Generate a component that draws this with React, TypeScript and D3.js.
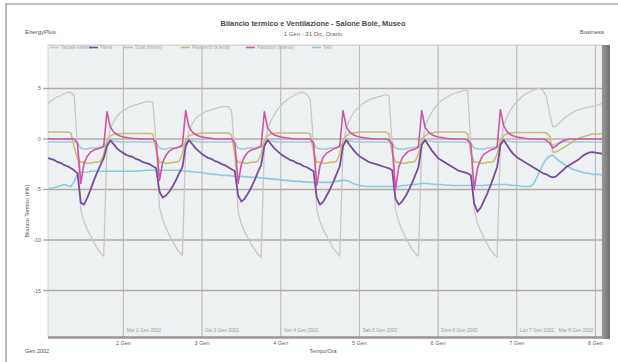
import * as d3 from "d3";

// hourly data, Jan 1 2002 01:00 -> Jan 8 2002 02:00 (kW)
const START = new Date(2002, 0, 1, 1);
const END = new Date(2002, 0, 8, 2);

const dayTicks = ["2 Gen", "3 Gen", "4 Gen", "5 Gen", "6 Gen", "7 Gen", "8 Gen"];
const dayTickDates = [2, 3, 4, 5, 6, 7, 8].map(d => new Date(2002, 0, d));
const dayNames = ["Mer 2 Gen 2002", "Gio 3 Gen 2002", "Ven 4 Gen 2002", "Sab 5 Gen 2002", "Dom 6 Gen 2002", "Lun 7 Gen 2002", "Mar 8 Gen 2002"];
const yTicks = [5, 0, -5, -10, -15];

// Partizioni (magenta)
const partizioni = [
  0.05, 0, 0, 0, 0, 0, 0, 0, 0, -0.4, -4.4, -2.4, -1.7, -1.3, -1.1, -1.0, -0.9, -0.7, 2.7, 1.2, 0.7, 0.45, 0.3,
  0.2, 0.15, 0.1, 0.05, 0.05, 0, 0, 0, 0, 0, -0.3, -4.1, -2.3, -1.6, -1.2, -1.0, -0.9, -0.8, -0.6, 2.8, 1.2, 0.7, 0.45, 0.3,
  0.2, 0.15, 0.1, 0.05, 0, 0, 0, 0, 0, 0, -0.4, -4.4, -2.5, -1.7, -1.3, -1.1, -1.0, -0.9, -0.7, 2.7, 1.1, 0.65, 0.4, 0.3,
  0.2, 0.15, 0.1, 0.05, 0, 0, 0, 0, 0, 0, -0.4, -4.6, -2.6, -1.8, -1.4, -1.2, -1.0, -0.9, -0.7, 2.8, 1.2, 0.7, 0.45, 0.3,
  0.2, 0.15, 0.1, 0.05, 0, 0, 0, 0, 0, -0.1, -0.5, -5.0, -2.8, -1.9, -1.5, -1.2, -1.1, -1.0, -0.8, 2.8, 1.2, 0.7, 0.45, 0.3,
  0.2, 0.15, 0.1, 0.05, 0, 0, 0, 0, 0, -0.1, -0.5, -5.0, -2.9, -2.0, -1.5, -1.3, -1.1, -1.0, -0.8, 2.9, 1.3, 0.75, 0.45, 0.3,
  0.2, 0.15, 0.1, 0.05, 0, 0, 0, 0, 0, -0.1, -0.4, -0.9, -0.7, -0.4, -0.2, -0.1, 0, 0, 0, 0, 0, 0, 0, 0,
  0, 0, 0,
];

// Pareti (purple)
const pareti = [
  -1.9, -2.0, -2.1, -2.3, -2.4, -2.6, -2.7, -2.9, -3.1, -3.4, -6.3, -6.5, -5.8, -5.0, -4.1, -3.3, -2.6, -1.9, -0.7, -0.15, -0.5, -0.9, -1.2,
  -1.4, -1.6, -1.7, -1.8, -2.0, -2.1, -2.3, -2.4, -2.5, -2.7, -2.9, -5.2, -5.8, -5.6, -5.2, -4.7, -4.1, -3.4, -2.8, -0.7, -0.1, -0.5, -0.9, -1.2,
  -1.5, -1.7, -1.9, -2.0, -2.2, -2.3, -2.5, -2.6, -2.8, -3.0, -3.2, -5.6, -6.2, -5.9, -5.4, -4.8, -4.1, -3.3, -2.6, -0.7, -0.1, -0.5, -0.9, -1.2,
  -1.5, -1.7, -1.9, -2.1, -2.2, -2.4, -2.5, -2.7, -2.8, -3.0, -3.2, -5.8, -6.5, -6.2, -5.6, -5.0, -4.3, -3.5, -2.7, -0.7, -0.1, -0.6, -1.0, -1.4,
  -1.7, -1.9, -2.1, -2.3, -2.4, -2.5, -2.6, -2.7, -2.8, -2.9, -3.1, -5.9, -6.5, -6.2, -5.7, -5.1, -4.4, -3.6, -2.8, -0.6, -0.1, -0.6, -1.1, -1.5,
  -1.9, -2.1, -2.3, -2.5, -2.7, -2.9, -3.1, -3.2, -3.3, -3.4, -3.6, -6.4, -7.2, -6.8, -6.1, -5.4, -4.6, -3.7, -2.8, -0.6, -0.1, -0.6, -1.1, -1.5,
  -1.8, -2.0, -2.2, -2.4, -2.6, -2.8, -3.0, -3.2, -3.4, -3.5, -3.7, -3.8, -3.7, -3.4, -3.1, -2.8, -2.6, -2.4, -2.2, -2.0, -1.7, -1.5, -1.35, -1.3,
  -1.35, -1.4, -1.45,
];

// Pavimenti (olive)
const pavimenti = [
  0.7, 0.7, 0.7, 0.7, 0.7, 0.7, 0.7, 0.6, -0.8, -2.0, -2.3, -2.3, -2.4, -2.4, -2.3, -2.3, -2.2, -1.5, -0.1, 0.3, 0.45, 0.5, 0.55,
  0.55, 0.55, 0.55, 0.55, 0.55, 0.55, 0.55, 0.55, 0.55, 0.5, -1.2, -2.3, -2.3, -2.4, -2.4, -2.3, -2.3, -2.2, -1.5, -0.1, 0.3, 0.45, 0.5, 0.55,
  0.6, 0.6, 0.6, 0.6, 0.6, 0.6, 0.6, 0.6, 0.6, 0.4, -1.6, -2.3, -2.3, -2.4, -2.4, -2.3, -2.3, -2.2, -1.5, -0.1, 0.3, 0.5, 0.55, 0.6,
  0.6, 0.6, 0.6, 0.6, 0.6, 0.6, 0.6, 0.6, 0.6, 0.5, -1.3, -2.3, -2.3, -2.4, -2.4, -2.3, -2.3, -2.2, -1.5, -0.1, 0.3, 0.5, 0.6, 0.65,
  0.7, 0.7, 0.7, 0.7, 0.7, 0.7, 0.7, 0.7, 0.7, 0.5, -1.4, -2.3, -2.3, -2.4, -2.4, -2.3, -2.3, -2.2, -1.5, -0.1, 0.3, 0.5, 0.6, 0.65,
  0.7, 0.7, 0.7, 0.7, 0.7, 0.7, 0.7, 0.7, 0.7, 0.5, -1.4, -2.3, -2.3, -2.4, -2.4, -2.3, -2.3, -2.2, -1.5, -0.1, 0.3, 0.5, 0.6, 0.65,
  0.65, 0.65, 0.65, 0.65, 0.65, 0.65, 0.65, 0.65, 0.65, 0.6, 0.3, -1.3, -1.3, -1.1, -0.9, -0.7, -0.5, -0.3, -0.1, 0.1, 0.2, 0.3, 0.4, 0.5,
  0.5, 0.5, 0.55,
];

// Vetrate esterne (light grey)
const vetrate = [
  3.5, 3.8, 4.0, 4.2, 4.3, 4.5, 4.6, 4.6, 4.3, -1.0, -7.0, -8.2, -9.0, -9.6, -10.2, -10.8, -11.3, -11.6, -0.6, 1.0, 1.7, 2.2, 2.6,
  2.8, 3.0, 3.2, 3.3, 3.4, 3.5, 3.6, 3.7, 3.7, 3.6, -0.5, -6.8, -8.0, -8.8, -9.5, -10.1, -10.7, -11.2, -11.5, -0.8, 0.8, 1.5, 2.0, 2.3,
  2.5, 2.7, 2.8, 2.9, 3.0, 3.1, 3.2, 3.2, 3.2, 2.8, -1.5, -7.2, -8.4, -9.2, -9.8, -10.4, -10.9, -11.4, -11.7, -0.8, 1.0, 1.8, 2.4, 2.9,
  3.3, 3.6, 3.9, 4.1, 4.3, 4.5, 4.6, 4.6, 4.4, 3.9, -0.5, -7.0, -8.2, -9.0, -9.6, -10.2, -10.8, -11.2, -11.6, -0.8, 1.1, 1.9, 2.5, 2.9,
  3.2, 3.5, 3.7, 3.9, 4.0, 4.1, 4.2, 4.3, 4.4, 4.3, -0.5, -7.0, -8.2, -9.0, -9.7, -10.3, -10.9, -11.3, -11.6, -0.8, 1.2, 2.0, 2.6, 3.1,
  3.5, 3.8, 4.0, 4.2, 4.4, 4.5, 4.6, 4.7, 4.8, 4.8, -0.5, -7.0, -8.3, -9.1, -9.8, -10.4, -11.0, -11.4, -11.7, -0.8, 1.3, 2.2, 2.8, 3.3,
  3.7, 4.0, 4.3, 4.5, 4.7, 4.8, 4.95, 5.0, 4.8, 4.2, 2.5, 1.2, 1.3, 1.6, 1.9, 2.2, 2.4, 2.6, 2.8, 2.9, 3.0, 3.1, 3.15, 3.2,
  3.3, 3.4, 3.5,
];

// Solai interni (light teal)
const solai = [
  -0.3, -0.3, -0.3, -0.3, -0.3, -0.3, -0.3, -0.3, -0.3, -0.4, -0.9, -1.0, -1.0, -0.9, -0.9, -0.9, -0.8, -0.8, -0.4, -0.2, -0.2, -0.25, -0.3,
  -0.3, -0.3, -0.3, -0.3, -0.3, -0.3, -0.3, -0.3, -0.3, -0.3, -0.4, -0.9, -1.0, -1.0, -0.9, -0.9, -0.9, -0.8, -0.8, -0.4, -0.2, -0.2, -0.25, -0.3,
  -0.3, -0.3, -0.3, -0.3, -0.3, -0.3, -0.3, -0.3, -0.3, -0.3, -0.4, -0.9, -1.0, -1.0, -0.9, -0.9, -0.9, -0.8, -0.8, -0.4, -0.2, -0.2, -0.25, -0.3,
  -0.3, -0.3, -0.3, -0.3, -0.3, -0.3, -0.3, -0.3, -0.3, -0.3, -0.4, -0.9, -1.0, -1.0, -1.0, -0.9, -0.9, -0.8, -0.8, -0.4, -0.2, -0.2, -0.25, -0.3,
  -0.3, -0.3, -0.3, -0.3, -0.3, -0.3, -0.3, -0.3, -0.3, -0.3, -0.4, -0.9, -1.0, -1.0, -1.0, -0.9, -0.9, -0.8, -0.8, -0.4, -0.2, -0.2, -0.25, -0.3,
  -0.3, -0.3, -0.3, -0.3, -0.3, -0.3, -0.3, -0.3, -0.3, -0.3, -0.4, -0.9, -1.0, -1.0, -1.0, -0.9, -0.9, -0.8, -0.8, -0.4, -0.2, -0.2, -0.25, -0.3,
  -0.3, -0.3, -0.3, -0.3, -0.3, -0.3, -0.3, -0.3, -0.3, -0.3, -0.35, -0.6, -0.5, -0.4, -0.3, -0.3, -0.3, -0.3, -0.3, -0.3, -0.3, -0.3, -0.3, -0.3,
  -0.3, -0.3, -0.3,
];

// Tetti (sky blue)
const tetti = [
  -4.9, -4.85, -4.8, -4.7, -4.6, -4.5, -4.6, -4.7, -4.2, -3.4, -3.3, -3.3, -3.3, -3.2, -3.2, -3.2, -3.2, -3.2, -3.2, -3.2, -3.2, -3.2, -3.2,
  -3.2, -3.2, -3.2, -3.2, -3.2, -3.15, -3.15, -3.1, -3.1, -3.1, -3.1, -3.1, -3.1, -3.1, -3.1, -3.1, -3.1, -3.1, -3.15, -3.2, -3.2, -3.25, -3.3, -3.3,
  -3.35, -3.4, -3.45, -3.5, -3.5, -3.55, -3.6, -3.6, -3.6, -3.65, -3.7, -3.7, -3.7, -3.75, -3.75, -3.8, -3.8, -3.8, -3.85, -3.9, -3.9, -3.95, -4.0, -4.0,
  -4.05, -4.1, -4.1, -4.15, -4.2, -4.2, -4.2, -4.25, -4.25, -4.3, -4.3, -4.3, -4.3, -4.3, -4.3, -4.3, -4.25, -4.2, -4.15, -4.1, -4.1, -4.2, -4.4, -4.5,
  -4.6, -4.65, -4.7, -4.7, -4.7, -4.7, -4.7, -4.7, -4.7, -4.7, -4.7, -4.7, -4.7, -4.6, -4.6, -4.55, -4.5, -4.5, -4.45, -4.4, -4.4, -4.4, -4.45, -4.5,
  -4.5, -4.5, -4.55, -4.55, -4.6, -4.6, -4.6, -4.6, -4.6, -4.6, -4.6, -4.6, -4.6, -4.6, -4.6, -4.55, -4.55, -4.5, -4.5, -4.5, -4.5, -4.5, -4.55, -4.6,
  -4.6, -4.65, -4.7, -4.7, -4.7, -4.5, -3.9, -3.2, -2.5, -2.0, -1.7, -1.6, -1.9, -2.2, -2.4, -2.6, -2.8, -3.0, -3.1, -3.2, -3.3, -3.4, -3.4, -3.5,
  -3.5, -3.5, -3.6,
];

const series = [
  {name: "Vetrate esterne", values: vetrate, color: "#cdc6c6", width: 1.3},
  {name: "Tetti", values: tetti, color: "#8ccbe2", width: 1.6},
  {name: "Solai (interni)", values: solai, color: "#a3cbd3", width: 1.5},
  {name: "Pavimenti (a terra)", values: pavimenti, color: "#c6be70", width: 1.5},
  {name: "Pareti", values: pareti, color: "#7a4c9c", width: 1.8},
  {name: "Partizioni (interne)", values: partizioni, color: "#cf55a6", width: 1.6},
];

// legend order as in the header strip
const legendOrder = [0, 4, 2, 3, 5, 1];
const legendX = [50, 89, 124, 181, 246, 312];

const left = 48, right = 602, top = 45, bottom = 337;

export default function App() {
  const x = d3.scaleTime().domain([START, END]).range([left, right]);
  const y = d3.scaleLinear().domain([-19.6, 9.3]).range([bottom, top]);
  const times = d3.range(vetrate.length).map(i => d3.timeHour.offset(START, i));
  const line = d3.line<number>().x((_, i) => x(times[i])).y(d => y(d));

  return (
    <svg width={618} height={362} style={{display: "block"}} fontFamily="Liberation Sans, Arial, sans-serif">
      <style>{"body{margin:0}"}</style>
      <defs>
        <clipPath id="plot">
          <rect x={left} y={top} width={right - left} height={bottom - top} />
        </clipPath>
        <linearGradient id="bar" x1="0" x2="1">
          <stop offset="0" stopColor="#9a9a9a" />
          <stop offset="1" stopColor="#6f6f6f" />
        </linearGradient>
      </defs>
      <rect width={618} height={362} fill="#fff" />
      <rect x={6} y={4} width={700} height={400} fill="none" stroke="#a8a8a8" strokeWidth={1.5} />

      <text x={313} y={26} textAnchor="middle" fontSize={7.4} fontWeight="bold" fill="#4a4a4a">Bilancio termico e Ventilazione - Salone Bolè, Museo</text>
      <text x={313} y={36} textAnchor="middle" fontSize={6} fill="#666">1 Gen - 31 Dic, Orario</text>
      <text x={25} y={34} fontSize={6} fill="#555">EnergyPlus</text>
      <text x={604} y={34} textAnchor="end" fontSize={6} fill="#555">Business</text>

      <rect x={left} y={top} width={right - left} height={bottom - top} fill="#edf1f1" stroke="#d2cccc" strokeWidth={0.8} />

      {yTicks.map(t => (
        <g key={t}>
          <line x1={43} x2={right} y1={y(t)} y2={y(t)} stroke="#b8aaa6" strokeWidth={1.6} />
          <text x={41} y={y(t) + 2} textAnchor="end" fontSize={5.5} fill="#666">{t}</text>
        </g>
      ))}

      {dayTickDates.map((d, i) => (
        <g key={i}>
          <line x1={x(d)} x2={x(d)} y1={top} y2={bottom} stroke="#b9b3b3" strokeWidth={1} />
          <text x={x(d)} y={345} textAnchor="middle" fontSize={5.5} fill="#666">{dayTicks[i]}</text>
        </g>
      ))}

      <g clipPath="url(#plot)">
        {dayTickDates.map((d, i) => (
          <text key={i} x={i === 6 ? x(dayTickDates[5]) + 42 : x(d) + 3} y={332} fontSize={4.8} fill="#a0a0a0">{dayNames[i]}</text>
        ))}
        {series.map(s => (
          <path key={s.name} d={line(s.values) || ""} fill="none" stroke={s.color} strokeWidth={s.width} strokeLinejoin="round" />
        ))}
      </g>

      {/* legend strip */}
      <line x1={left} x2={right} y1={top + 0.5} y2={top + 0.5} stroke="#d8d2d2" strokeWidth={1} />
      {legendOrder.map((si, i) => (
        <g key={si}>
          <line x1={legendX[i]} x2={legendX[i] + 9} y1={47.5} y2={47.5} stroke={series[si].color} strokeWidth={1.6} />
          <text x={legendX[i] + 11} y={49.3} fontSize={4.6} fill="#a6a6a6">{series[si].name}</text>
        </g>
      ))}

      <line x1={left} x2={right + 2} y1={bottom + 0.5} y2={bottom + 0.5} stroke="#a09494" strokeWidth={2.5} />
      <rect x={right} y={top} width={8} height={bottom - top + 2} fill="url(#bar)" />

      <text transform={`translate(29,${(top + bottom) / 2 + 20}) rotate(-90)`} textAnchor="middle" fontSize={5.5} fill="#555">Bilancio Termico (kW)</text>
      <text x={25} y={353} fontSize={5.5} fill="#555">Gen 2002</text>
      <text x={323} y={353} textAnchor="middle" fontSize={5.5} fill="#555">Tempo/Ora</text>
    </svg>
  );
}
